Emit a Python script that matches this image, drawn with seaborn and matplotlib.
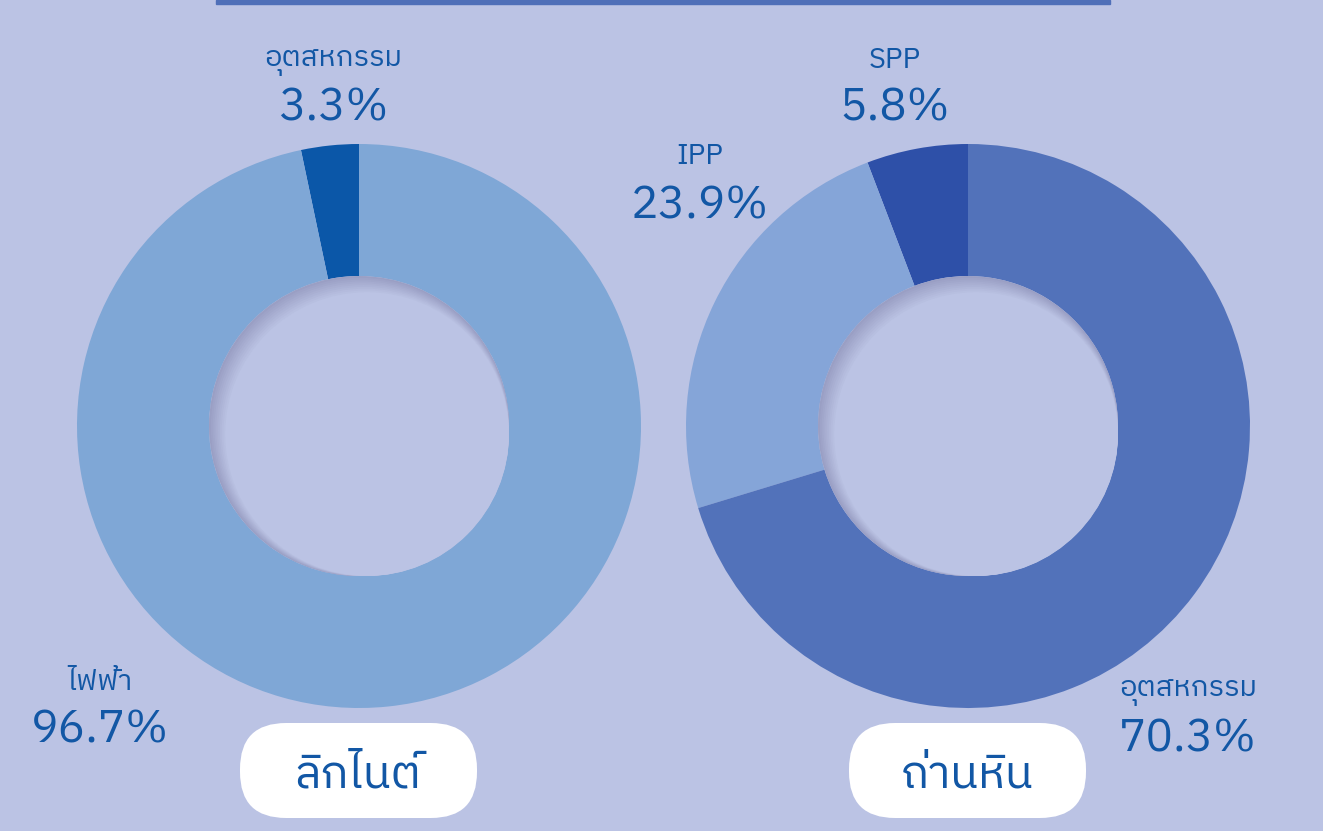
import matplotlib
matplotlib.use("Agg")
import matplotlib.pyplot as plt
import seaborn as sns
from matplotlib.patches import Circle, FancyBboxPatch, Rectangle
from matplotlib import font_manager
from matplotlib.ft2font import FT2Font

sns.set_theme(style="white")

# lignite
lignite_labels = ["อุตสหกรรม", "ไฟฟ้า"]
lignite_values = [3.3, 96.7]
# coal
coal_labels = ["SPP", "IPP", "อุตสหกรรม"]
coal_values = [5.8, 23.9, 70.3]
titles = ["ลิกไนต์", "ถ่านหิน"]

bg = "#BBC3E4"
txt = "#1257A5"
lignite_colors = ["#0B57A8", "#7FA7D6"]
coal_colors = ["#2E50A8", "#85A5D8", "#5272BA"]


# find an installed family that covers Thai
def thai_families():
    found = []
    for f in font_manager.fontManager.ttflist:
        try:
            cmap = FT2Font(f.fname).get_charmap()
        except Exception:
            continue
        if all(ord(c) in cmap for c in "กตถไฟฟ้าุ์ิ่"):
            if f.name not in found:
                found.append(f.name)
    return found


thai = thai_families()
pref = [n for n in thai if "Thai" in n and "Looped" not in n] + thai
fams = (pref[:1] if pref else []) + ["DejaVu Sans"]
plt.rcParams["font.family"] = fams

W, H = 1323, 831
fig = plt.figure(figsize=(W / 100, H / 100), dpi=100, facecolor=bg)
ax = fig.add_axes([0, 0, 1, 1])
ax.set_facecolor(bg)

R, r = 282, 150
centers = [(359, H - 426), (968, H - 426)]

shade = sns.blend_palette(["#9A9FC4", bg], 10)
for (cx, cy), vals, cols in zip(centers, [lignite_values, coal_values],
                                [lignite_colors, coal_colors]):
    ax.pie(vals, colors=cols, startangle=90, counterclock=True,
           center=(cx, cy), radius=R, frame=True,
           wedgeprops=dict(width=R - r, linewidth=0))
    # hole with soft inner shadow
    for k, c in enumerate(shade):
        d = k * 0.9
        ax.add_patch(Circle((cx + d, cy - d), r - d, color=c, zorder=3,
                            lw=0))

# top bar
ax.add_patch(Rectangle((216, H - 4), 894, 4, color="#4F6FB8", zorder=4))

# labels: (name, pct, x, y_name, y_pct)
annots = [
    (lignite_labels[0], lignite_values[0], 333, 62, 108),
    (lignite_labels[1], lignite_values[1], 100, 682, 730),
    (coal_labels[0], coal_values[0], 895, 60, 108),
    (coal_labels[1], coal_values[1], 700, 157, 206),
    (coal_labels[2], coal_values[2], 1188, 692, 739),
]
for name, pct, x, yn, yp in annots:
    ax.text(x, H - yn, name, ha="center", va="center", fontsize=21,
            color=txt)
    ax.text(x, H - yp, f"{pct}%", ha="center", va="center", fontsize=33,
            color=txt)

# title boxes
for (bx, title) in zip([240, 849], titles):
    ax.add_patch(FancyBboxPatch((bx + 46, H - 818 + 46), 237 - 92, 95 - 92,
                                boxstyle="round,pad=46", fc="white", ec="none",
                                zorder=5))
    ax.text(bx + 118, H - 775, title, ha="center", va="center", fontsize=33,
            color=txt, zorder=6)

ax.set_xlim(0, W)
ax.set_ylim(0, H)
ax.set_aspect("equal")
ax.axis("off")

fig.savefig("out.png", dpi=100, facecolor=bg)
